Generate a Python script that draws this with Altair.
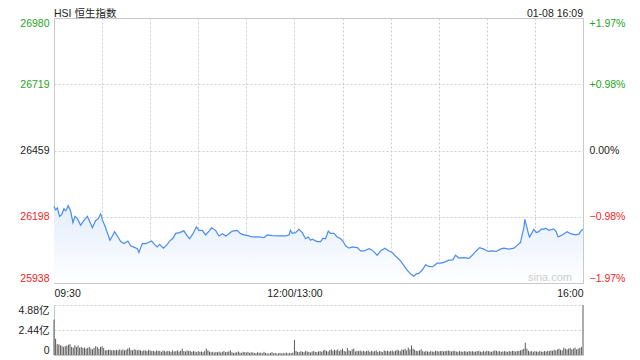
import altair as alt
import pandas as pd

# ---- data ----
minutes = [0, 1.0, 2.1, 3.5, 4.8, 6.2, 7.3, 8.9, 10.4, 11.8, 13.1, 14.6, 16.6, 18.3, 20.8, 22.2,
           23.9, 26.0, 27.6, 29.1, 30.1, 32.2, 34.9, 36.4, 37.8, 39.5, 41.6, 43.7, 46.1, 47.8,
           50.5, 52.0, 53.0, 55.1, 57.2, 58.8, 60.9, 63.0, 64.4, 65.9, 68.2, 70.7, 72.1, 74.2,
           75.9, 78.4, 81.0, 83.1, 84.6, 86.7, 88.8, 90.4, 92.5, 94.6, 96.7, 98.3, 100.8, 102.9,
           105.0, 107.1, 109.1, 111.2, 114.3, 116.4, 118.5, 121.6, 123.7, 127.9, 131.0, 133.0,
           136.2, 140.3, 144.5, 146.6, 147.6, 148.6, 150.7, 152.8, 154.9, 156.9, 158.6, 160.1,
           161.1, 164.2, 166.3, 167.8, 169.4, 171.1, 172.5, 174.6, 176.7, 178.8, 180.2, 181.9,
           184.0, 186.1, 189.2, 191.3, 193.4, 196.5, 198.6, 201.6, 203.7, 206.4, 208.9, 211.0,
           213.5, 216.2, 218.3, 220.3, 222.4, 224.5, 226.0, 227.6, 229.7, 231.8, 233.8, 236.3,
           239.0, 241.1, 243.2, 246.3, 248.8, 250.5, 252.6, 255.7, 258.8, 260.9, 263.0, 265.5,
           268.2, 270.9, 273.4, 275.8, 278.5, 280.6, 283.7, 286.9, 288.9, 291.0, 292.1, 293.1,
           293.7, 294.8, 295.8, 296.6, 297.9, 299.3, 300.8, 302.4, 304.1, 305.5, 306.6, 308.7,
           311.8, 313.2, 314.5, 317.0, 320.1, 322.2, 325.3, 327.4, 329.0, 330.0]
prices = [26239, 26226, 26233, 26200, 26207, 26230, 26222, 26242, 26220, 26175, 26200, 26191,
          26165, 26181, 26200, 26181, 26155, 26184, 26191, 26210, 26188, 26155, 26106, 26123,
          26140, 26123, 26101, 26093, 26103, 26084, 26077, 26073, 26058, 26093, 26093, 26097,
          26103, 26088, 26080, 26090, 26075, 26090, 26103, 26114, 26133, 26136, 26143, 26123,
          26112, 26132, 26159, 26145, 26145, 26127, 26142, 26155, 26145, 26123, 26132, 26123,
          26132, 26142, 26145, 26132, 26127, 26123, 26119, 26119, 26116, 26127, 26124, 26123,
          26123, 26127, 26145, 26133, 26136, 26149, 26136, 26112, 26119, 26106, 26110, 26101,
          26101, 26114, 26112, 26142, 26133, 26133, 26119, 26112, 26103, 26084, 26075, 26080,
          26077, 26064, 26064, 26073, 26067, 26047, 26064, 26075, 26064, 26058, 26041, 26025,
          26006, 25989, 25974, 25965, 25974, 25976, 25989, 26010, 26003, 26002, 26016, 26016,
          26019, 26028, 26029, 26047, 26036, 26038, 26035, 26047, 26062, 26077, 26071, 26062,
          26064, 26062, 26071, 26075, 26071, 26075, 26086, 26097, 26129, 26155, 26188, 26162,
          26136, 26119, 26132, 26149, 26136, 26140, 26151, 26149, 26153, 26145, 26151, 26140,
          26119, 26127, 26140, 26132, 26127, 26130, 26145, 26149]

# volume per minute, in 亿
volume = [
    3.45, 1.58, 1.06, 1.04, 0.96, 0.86, 0.79, 0.86, 0.92, 1.00,
    1.06, 0.79, 0.72, 0.96, 0.79, 0.93, 0.72, 0.79, 0.69, 0.72,
    0.62, 0.69, 0.79, 0.62, 0.55, 0.69, 0.86, 0.79, 0.62, 0.79,
    0.86, 0.69, 0.45, 0.48, 0.51, 0.51, 0.45, 0.48, 0.45, 0.51,
    0.45, 0.55, 0.45, 0.55, 0.45, 0.51, 0.62, 0.72, 0.51, 0.45,
    0.55, 0.51, 0.45, 0.51, 0.45, 0.38, 0.45, 0.45, 0.38, 0.51,
    0.45, 0.38, 0.41, 0.34, 0.45, 0.38, 0.41, 0.31, 0.45, 0.38,
    0.34, 0.41, 0.38, 0.31, 0.45, 0.34, 0.38, 0.45, 0.34, 0.41,
    0.62, 0.38, 0.34, 0.45, 0.38, 0.41, 0.31, 0.38, 0.34, 0.27,
    0.38, 0.31, 0.34, 0.27, 0.38, 0.62, 0.45, 0.34, 0.27, 0.31,
    0.24, 0.31, 0.27, 0.34, 0.24, 0.31, 0.38, 0.27, 0.31, 0.34,
    0.45, 0.27, 0.21, 0.24, 0.27, 0.34, 0.24, 0.21, 0.31, 0.27,
    0.24, 0.31, 0.21, 0.27, 0.24, 0.21, 0.17, 0.27, 0.21, 0.24,
    0.17, 0.31, 0.21, 0.17, 0.14, 0.21, 0.27, 0.17, 0.21, 0.14,
    0.17, 0.21, 0.14, 0.21, 0.17, 0.24, 0.14, 0.21, 0.17, 0.24,
    1.48, 0.38, 0.31, 0.27, 0.38, 0.31, 0.27, 0.41, 0.34, 0.31,
    0.24, 0.34, 0.38, 0.31, 0.27, 0.34, 0.38, 0.31, 0.45, 0.51,
    0.38, 0.34, 0.48, 0.55, 0.41, 0.51, 0.45, 0.55, 0.38, 0.51,
    0.62, 0.41, 0.34, 0.69, 0.45, 0.38, 0.55, 0.62, 0.34, 0.41,
    0.38, 0.45, 0.34, 0.41, 0.34, 0.38, 0.45, 0.31, 0.41, 0.34,
    0.38, 0.45, 0.31, 0.38, 0.34, 0.27, 0.45, 0.38, 0.41, 0.34,
    0.38, 0.45, 0.34, 0.41, 0.51, 0.45, 0.38, 0.55, 0.51, 0.62,
    0.45, 0.72, 0.55, 0.93, 0.62, 0.51, 0.41, 0.38, 0.45, 0.55,
    0.38, 0.31, 0.41, 0.34, 0.31, 0.38, 0.34, 0.31, 0.41, 0.38,
    0.34, 0.38, 0.41, 0.34, 0.38, 0.41, 0.45, 0.38, 0.34, 0.41,
    0.38, 0.34, 0.31, 0.38, 0.34, 0.31, 0.38, 0.34, 0.31, 0.38,
    0.34, 0.38, 0.31, 0.34, 0.38, 0.41, 0.34, 0.31, 0.38, 0.34,
    0.41, 0.38, 0.34, 0.31, 0.38, 0.45, 0.41, 0.34, 0.38, 0.31,
    0.34, 0.38, 0.34, 0.31, 0.38, 0.34, 0.41, 0.38, 0.34, 0.38,
    0.41, 0.45, 0.51, 0.62, 1.20, 0.62, 0.41, 0.34, 0.38, 0.31,
    0.38, 0.34, 0.31, 0.38, 0.34, 0.31, 0.38, 0.34, 0.41, 0.38,
    0.45, 0.41, 0.51, 0.45, 0.55, 0.62, 0.51, 0.45, 0.72, 0.62,
    0.55, 0.62, 0.69, 0.55, 0.62, 0.72, 0.55, 0.62, 0.69, 0.79,
    4.88]

prev_close = 26459
price_ticks = [25938, 26198, 26459, 26719, 26980]
pct_ticks = [-1.97, -0.98, 0.0, 0.98, 1.97]
vol_ticks = [0, 2.44, 4.88]
time_ticks = list(range(0, 331, 30))
title_text = ["HSI 恒生指数"]
date_text = ["01-08 16:09"]
watermark = ["sina.com"]

FONT = "Liberation Sans, Arial, 'Noto Sans CJK SC', sans-serif"
GREEN = "#1ea51e"
RED = "#f02424"
DARK = "#222222"
GRID = "#cfcfcf"
BORDER = "#c4c4c4"
LINE = "#4a8cf0"

W, H, VH = 529, 265, 50

df = pd.DataFrame({"m": minutes, "p": prices})
vdf = pd.DataFrame({"m": list(range(len(volume))), "v": volume})

xscale = alt.Scale(domain=[0, 330], nice=False, zero=False)
x_price = alt.X(
    "m:Q", scale=xscale,
    axis=alt.Axis(values=time_ticks, title=None, ticks=False, domain=False,
                  grid=True, gridColor=GRID, gridDash=[2, 2],
                  labelExpr="datum.value==0?'09:30':(datum.value==150?'12:00/13:00':(datum.value==330?'16:00':''))",
                  labelFlush=True, labelOverlap=False, labelPadding=5,
                  labelColor=DARK, labelFontSize=10.5, labelFont=FONT))

y_price = alt.Y(
    "p:Q", scale=alt.Scale(domain=[25938, 26980], nice=False, zero=False),
    axis=alt.Axis(values=price_ticks, title=None, ticks=False, domain=False,
                  grid=True, gridColor=GRID, gridDash=[2, 2], format="d",
                  labelFlush=True, labelOverlap=False, labelPadding=5,
                  labelFontSize=10.5, labelFont=FONT,
                  labelColor=alt.ExprRef(expr=f"datum.value > {prev_close} ? '{GREEN}' : (datum.value < {prev_close} ? '{RED}' : '{DARK}')")))

gradient = alt.Gradient(
    gradient="linear", x1=1, x2=1, y1=0, y2=1,
    stops=[alt.GradientStop(color="#e3edfc", offset=0),
           alt.GradientStop(color="#ffffff", offset=1)])

area = alt.Chart(df).mark_area(color=gradient).encode(
    x=x_price, y=y_price, y2=alt.Y2Datum(25938))
line = alt.Chart(df).mark_line(color=LINE, strokeWidth=1.2).encode(x=x_price, y=y_price)

title_mark = alt.Chart(pd.DataFrame({"t": title_text})).mark_text(
    align="left", baseline="alphabetic", fontSize=10.5, font=FONT, color=DARK
).encode(x=alt.value(0), y=alt.value(-1.5), text="t:N")
date_mark = alt.Chart(pd.DataFrame({"t": date_text})).mark_text(
    align="right", baseline="alphabetic", fontSize=10.5, font=FONT, color=DARK
).encode(x=alt.value(W), y=alt.value(-1.5), text="t:N")
wm_mark = alt.Chart(pd.DataFrame({"t": watermark})).mark_text(
    align="right", baseline="alphabetic", fontSize=11, font=FONT, color="#cdcdcd"
).encode(x=alt.value(W - 11), y=alt.value(H - 2), text="t:N")

pct_layer = alt.Chart(df).transform_calculate(
    pct=f"(datum.p / {prev_close} - 1) * 100"
).mark_line(opacity=0).encode(
    x=alt.X("m:Q", scale=xscale),
    y=alt.Y("pct:Q", scale=alt.Scale(domain=[-1.97, 1.97], nice=False, zero=False),
            axis=alt.Axis(orient="right", values=pct_ticks, title=None, ticks=False,
                          domain=False, grid=False, labelFlush=True, labelOverlap=False,
                          labelPadding=6, labelFontSize=10.5, labelFont=FONT,
                          labelExpr="(datum.value > 0 ? '+' : '') + format(datum.value, '.2f') + '%'",
                          labelColor=alt.ExprRef(expr=f"datum.value > 0 ? '{GREEN}' : (datum.value < 0 ? '{RED}' : '{DARK}')"))))

price = alt.layer(
    alt.layer(area, line, wm_mark, title_mark, date_mark),
    pct_layer
).resolve_scale(y="independent").properties(
    width=W, height=H, view=alt.ViewBackground(stroke=BORDER, strokeWidth=1))

vol_chart = alt.Chart(vdf).mark_rule(color="#5a5a5a", strokeWidth=1).encode(
    x=alt.X("m:Q", scale=xscale,
            axis=alt.Axis(labels=False, ticks=False, grid=False, domain=True,
                          domainColor=BORDER, title=None)),
    y=alt.Y("v:Q", scale=alt.Scale(domain=[0, 4.88], nice=False, zero=True),
            axis=alt.Axis(values=vol_ticks, title=None, ticks=False, domain=True,
                          domainColor=BORDER, grid=True, gridColor=GRID, gridDash=[2, 2],
                          labelExpr="datum.value == 0 ? '0' : format(datum.value, '.2f') + '亿'",
                          labelFlush=True, labelOverlap=False, labelPadding=5,
                          labelColor=DARK, labelFontSize=10.5, labelFont=FONT)),
    y2=alt.Y2Datum(0)
).properties(width=W, height=VH, view=alt.ViewBackground(stroke="transparent"))

chart = alt.vconcat(price, vol_chart, spacing=22, bounds="flush").properties(
    padding={"left": 9, "top": 0, "right": 5, "bottom": 2},
    background="white"
).configure(font=FONT)

chart.save("out.html", embed_options={"renderer": "svg", "actions": False})
